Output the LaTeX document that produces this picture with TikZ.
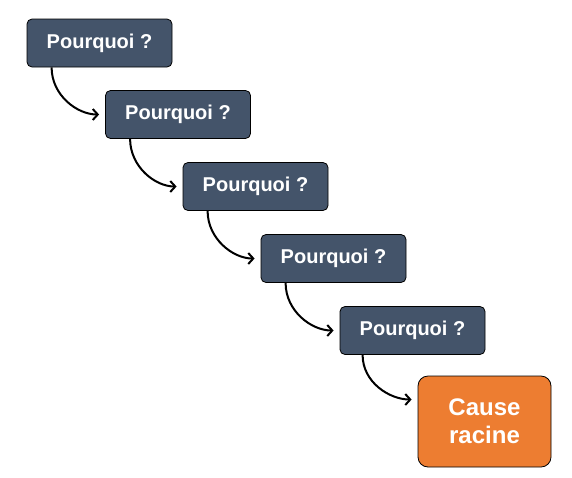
\documentclass[tikz,border=0pt]{standalone}
\usepackage{fontspec}
\setmainfont{Liberation Sans}
\usetikzlibrary{arrows.meta}

\begin{document}
\begin{tikzpicture}[x=1pt,y=-1pt,
    why/.style={draw=black,line width=0.8pt,fill=why_blue,rounded corners=5pt,
        minimum width=145pt,minimum height=48pt,inner sep=0pt,
        text=white,font=\bfseries\fontsize{20}{24}\selectfont},
    root/.style={draw=black,line width=0.8pt,fill=root_orange,rounded corners=10pt,
        minimum width=133pt,minimum height=91pt,inner sep=0pt,align=center,
        text=white,font=\bfseries\fontsize{24}{28}\selectfont},
    link/.style={line width=2pt,-{Straight Barb[length=5pt,width=11pt]},shorten >=6pt}]
    \definecolor{why_blue}{HTML}{44546A}
    \definecolor{root_orange}{HTML}{ED7D31}
    \useasboundingbox (0,0) rectangle (572,477);
    %\draw[help lines] (0,0) grid[step=50] (572,477);
    \node[why] (why1) at (99.5,43) {Pourquoi ?};
    \node[why] (why2) at (178,114.5) {Pourquoi ?};
    \node[why] (why3) at (255.5,186.5) {Pourquoi ?};
    \node[why] (why4) at (333.5,258.5) {Pourquoi ?};
    \node[why] (why5) at (412.5,330.5) {Pourquoi ?};
    \node[root] (cause) at (484.5,421.5) {Cause\\racine};

    \draw[link] ([xshift=25pt]why1.south west) to[out=-90,in=180] (why2.west);
    \draw[link] ([xshift=25pt]why2.south west) to[out=-90,in=180] (why3.west);
    \draw[link] ([xshift=25pt]why3.south west) to[out=-90,in=180] (why4.west);
    \draw[link] ([xshift=25pt]why4.south west) to[out=-90,in=180] (why5.west);
    \draw[link] ([xshift=23pt]why5.south west) to[out=-90,in=180] ([yshift=22pt]cause.west);
\end{tikzpicture}
\end{document}
